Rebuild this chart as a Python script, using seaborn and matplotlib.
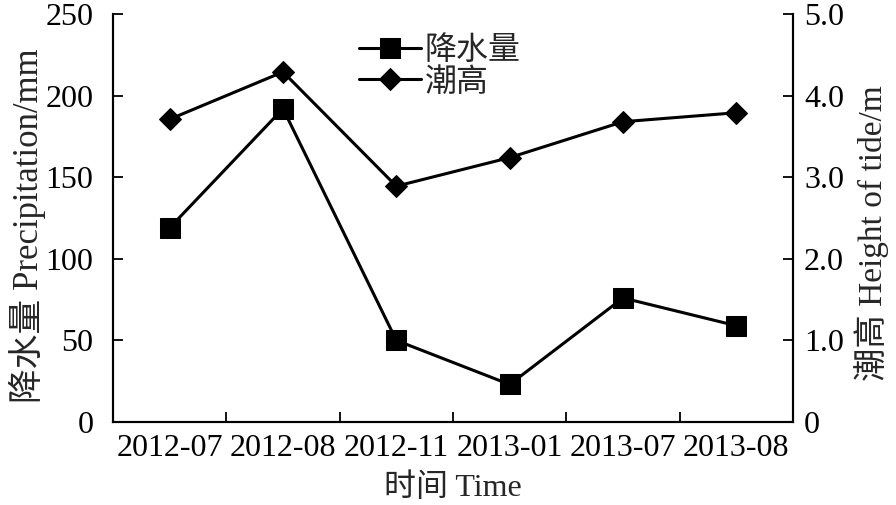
import matplotlib
matplotlib.use("Agg")
import matplotlib.pyplot as plt
import seaborn as sns
import pandas as pd
from matplotlib.ticker import FixedLocator

categories = ["2012-07", "2012-08", "2012-11", "2013-01", "2013-07", "2013-08"]
precipitation = [119, 192, 50, 23, 76, 59]
tide = [3.71, 4.29, 2.89, 3.24, 3.68, 3.79]

sns.set_theme(style="ticks")
plt.rcParams["font.family"] = ["Liberation Serif", "Noto Sans CJK SC"]
plt.rcParams["axes.unicode_minus"] = False

df = pd.DataFrame({"time": categories, "precip": precipitation, "tide": tide})

fig = plt.figure(figsize=(8.96, 5.05), dpi=100)
ax = fig.add_axes([113/896, 1-422/505, 680/896, 408/505])
ax2 = ax.twinx()

sns.lineplot(data=df, x="time", y="precip", ax=ax, color="black", marker="s",
             markersize=14, linewidth=2.2, markeredgecolor="black", label="降水量", legend=False, sort=False)
sns.lineplot(data=df, x="time", y="tide", ax=ax2, color="black", marker="D",
             markersize=11.5, linewidth=2.2, markeredgecolor="black", label="潮高", legend=False, sort=False)

ax.set_xlim(-0.5, len(categories) - 0.5)
ax.set_ylim(0, 250)
ax2.set_ylim(0, 5.0)
ax.set_yticks([0, 50, 100, 150, 200, 250])
ax2.set_yticks([0, 1, 2, 3, 4, 5])
ax2.set_yticklabels(["0", "1.0", "2.0", "3.0", "4.0", "5.0"])

ax.set_xticks(range(len(categories)))
ax.set_xticklabels(categories)
ax.tick_params(axis="x", which="major", length=0, labelsize=23, pad=9, colors="black")
ax.xaxis.set_minor_locator(FixedLocator([i + 0.5 for i in range(len(categories) - 1)]))
ax.tick_params(axis="x", which="minor", direction="in", length=7, width=1.3, color="black")
ax.tick_params(axis="y", direction="in", length=7, width=1.3, labelsize=23, pad=14, colors="black")
ax2.tick_params(axis="y", direction="in", length=7, width=1.3, labelsize=23, pad=8, colors="black")

for a in (ax, ax2):
    a.spines["top"].set_visible(False)
    for s in ("left", "right", "bottom"):
        a.spines[s].set_linewidth(1.5)
        a.spines[s].set_color("black")

ax.set_xlabel("时间 Time", fontsize=23, labelpad=7)
ax.set_ylabel("降水量 Precipitation/mm", fontsize=25)
ax2.set_ylabel("潮高 Height of tide/m", fontsize=24)
ax.yaxis.set_label_coords(-0.098, 0.48)
ax2.yaxis.set_label_coords(1.09, 0.463)

h1, l1 = ax.get_legend_handles_labels()
h2, l2 = ax2.get_legend_handles_labels()
ax.legend(h1 + h2, l1 + l2, loc="upper left", bbox_to_anchor=(0.362, 0.945), frameon=False,
          fontsize=23, handlelength=1.95, handletextpad=0.1, labelspacing=0.05, borderaxespad=0,
          borderpad=0)

fig.savefig("out.png", dpi=100)
